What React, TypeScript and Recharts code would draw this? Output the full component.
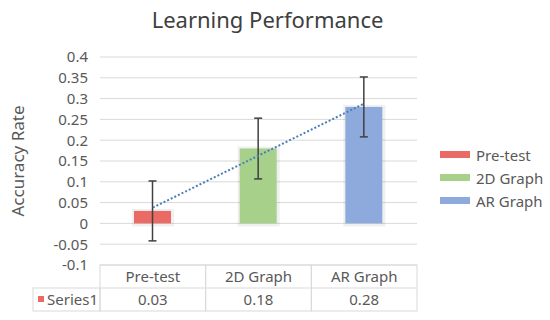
import React from 'react';
import {
  ComposedChart,
  Bar,
  Cell,
  Line,
  ErrorBar,
  XAxis,
  YAxis,
  CartesianGrid,
} from 'recharts';

const categories = ['Pre-test', '2D Graph', 'AR Graph'];
const accuracy = [0.03, 0.18, 0.28];
const errors = [0.072, 0.073, 0.072];
const trendValues = [0.038, 0.163, 0.288];
const yTicks = [-0.1, -0.05, 0, 0.05, 0.1, 0.15, 0.2, 0.25, 0.3, 0.35, 0.4];
const seriesName = 'Series1';

const COLORS = ['#ea6a65', '#a7d08b', '#8eaadc']; // red, green, blue
const FONT = '"Noto Sans", "Open Sans", sans-serif';
const TEXT = '#595959';
const BORDER = '#d9d9d9';

const data = categories.map((name, i) => ({
  name,
  value: accuracy[i],
  err: errors[i],
  trend: trendValues[i],
}));

const COL_W = 317 / 3;
const ROW_H = 23;

const TableTick = (props: any) => {
  const { x, y, payload } = props;
  const i = payload.index;
  const left = x - COL_W / 2;
  return (
    <g>
      <rect x={left} y={y} width={COL_W} height={ROW_H * 2} fill="none" stroke={BORDER} />
      <line x1={left} y1={y + ROW_H} x2={left + COL_W} y2={y + ROW_H} stroke={BORDER} />
      <text x={x} y={y + 17} textAnchor="middle" fontSize={15} fill={TEXT} fontFamily={FONT}>
        {payload.value}
      </text>
      <text x={x} y={y + ROW_H + 17} textAnchor="middle" fontSize={15} fill={TEXT} fontFamily={FONT}>
        {accuracy[i]}
      </text>
      {i === 0 && (
        <g>
          <rect x={left - 67} y={y + ROW_H} width={67} height={ROW_H} fill="none" stroke={BORDER} />
          <rect x={left - 62} y={y + ROW_H + 8} width={6} height={6} fill={COLORS[0]} />
          <text x={left - 53} y={y + ROW_H + 17} fontSize={15} fill={TEXT} fontFamily={FONT}>
            {seriesName}
          </text>
        </g>
      )}
    </g>
  );
};

const ShadowBar = (props: any) => {
  const { x, y, width, height, fill } = props;
  if (height == null || width == null) return null;
  return (
    <g>
      <rect x={x - 2} y={y - 2} width={width + 5} height={height + 5} fill="#000" opacity={0.06} />
      <rect x={x} y={y} width={width} height={height} fill={fill} />
    </g>
  );
};

const CategoryLegend = () => (
  <div
    style={{
      position: 'absolute',
      left: 440,
      top: 143,
      fontFamily: FONT,
      fontSize: 15,
      color: TEXT,
    }}
  >
    {categories.map((c, i) => (
      <div key={c} style={{ display: 'flex', alignItems: 'center', height: 23 }}>
        <span style={{ width: 30, height: 7, background: COLORS[i], marginRight: 6 }} />
        <span>{c}</span>
      </div>
    ))}
  </div>
);

const App: React.FC = () => {
  return (
    <div
      style={{
        position: 'absolute',
        left: 0,
        top: 0,
        width: 550,
        height: 320,
        background: '#fff',
        fontFamily: FONT,
      }}
    >
      <div
        style={{
          position: 'absolute',
          left: 0,
          top: 4,
          width: 535,
          textAlign: 'center',
          fontSize: 22,
          color: '#404040',
        }}
      >
        Learning Performance
      </div>
      <ComposedChart
        width={550}
        height={320}
        data={data}
        margin={{ top: 57, right: 133, bottom: 9, left: 0 }}
      >
        <CartesianGrid vertical={false} stroke={BORDER} />
        <XAxis
          dataKey="name"
          axisLine={false}
          tickLine={false}
          tickSize={0}
          tickMargin={0}
          height={46}
          interval={0}
          tick={<TableTick />}
        />
        <YAxis
          width={100}
          domain={[-0.1, 0.4]}
          ticks={yTicks}
          interval={0}
          axisLine={false}
          tickLine={false}
          tickMargin={6}
          tick={{ fill: TEXT, fontSize: 15, fontFamily: FONT }}
          label={{
            value: 'Accuracy Rate',
            angle: -90,
            position: 'insideLeft',
            offset: 18,
            style: { fill: TEXT, fontSize: 17, fontFamily: FONT, textAnchor: 'middle' },
          }}
        />
        <Bar dataKey="value" barSize={37} isAnimationActive={false} shape={<ShadowBar />}>
          {data.map((_, i) => (
            <Cell key={`cell-${i}`} fill={COLORS[i]} />
          ))}
          <ErrorBar dataKey="err" width={4} strokeWidth={1.5} stroke="#404040" direction="y" />
        </Bar>
        <Line
          dataKey="trend"
          type="linear"
          stroke="#4a7ebb"
          strokeWidth={2}
          strokeDasharray="2 2"
          dot={false}
          activeDot={false}
          isAnimationActive={false}
        />
      </ComposedChart>
      <CategoryLegend />
    </div>
  );
};

export default App;
